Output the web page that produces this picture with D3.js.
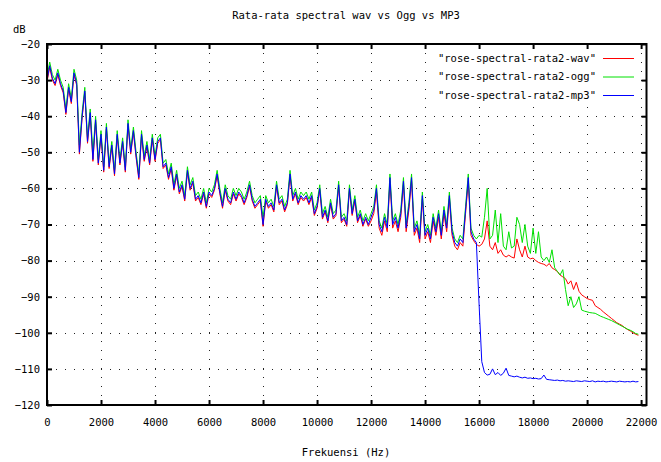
<!DOCTYPE html>
<html>
<head>
<meta charset="utf-8">
<script src="https://cdn.jsdelivr.net/npm/d3@7"></script>
<style>
  body { margin: 0; background: #fff; }
  text { font-family: "DejaVu Sans Mono", monospace; font-size: 10.5px; fill: #000; }
</style>
</head>
<body>
<div id="chart"></div>
<script>
// frequency step between samples (Hz), first sample at 0 Hz
var freqStep = 100;

var xTicks = [0, 2000, 4000, 6000, 8000, 10000, 12000, 14000, 16000, 18000, 20000, 22000];
var yTicks = [-20, -30, -40, -50, -60, -70, -80, -90, -100, -110, -120];
var seriesNames = ['"rose-spectral-rata2-wav"', '"rose-spectral-rata2-ogg"', '"rose-spectral-rata2-mp3"'];

var wav = [
  -30.5,-26.5,-30,-31.5,-28.5,-31.5,-33.5,-39.5,-32.5,-36.5,
  -28.5,-31.5,-50.5,-40.5,-33.5,-47.5,-39.5,-52.5,-41.5,-53.5,
  -45.5,-55.5,-43.5,-54.5,-48.5,-56.5,-45.5,-53.5,-47.5,-55.5,
  -42.5,-50.5,-44.5,-51.5,-57.5,-45.5,-52.5,-48.5,-53.5,-46.5,
  -52.5,-47.5,-46.5,-54.5,-53.5,-57.5,-54.5,-60.5,-56.5,-61.5,
  -59.5,-63.5,-55.5,-60.5,-58.5,-63.5,-62.5,-64.5,-61.5,-65.5,
  -61.5,-62.5,-60.5,-56.5,-61.5,-65.5,-60.5,-63.5,-64.5,-61.5,
  -63.5,-61.5,-62.5,-64.5,-62.5,-59.5,-63.5,-65.5,-64.5,-63.5,
  -70.5,-63.5,-65.5,-64.5,-66.5,-59.5,-64.5,-63.5,-66.5,-64.5,
  -56.5,-63.5,-61.5,-64.5,-62.5,-63.5,-62.5,-64.5,-62.5,-67.5,
  -65.5,-60.5,-68.5,-66.5,-69.5,-64.5,-68.5,-67.5,-59.5,-69.5,
  -68.5,-70.5,-60.5,-67.5,-63.5,-69.5,-67.5,-70.5,-68.5,-70.5,
  -69,-67,-61,-71,-73,-69,-72,-58,-71,-69,
  -72,-68,-59,-72,-66,-58,-73,-71,-75,-63,
  -74,-72,-75,-69,-73,-68,-74,-67,-72,-63,
  -73,-76,-77,-75,-76,-67,-58,-73,-74.5,-75.5,
  -76,-75.5,-74,-69,-76,-77,-75,-78,-77,-78.5,
  -79,-78.5,-79,-79.3,-74,-77,-79,-76,-79,-79.5,
  -79.3,-80,-80.5,-80.8,-81,-81.5,-80.8,-82,-82.5,-83,
  -84,-84.5,-85,-86.5,-85.6,-88,-86,-88.5,-89.5,-90,
  -90.5,-90.8,-91,-92.5,-93,-93.5,-94.2,-94.8,-95.4,-96,
  -96.6,-97.2,-97.6,-98,-98.6,-99.1,-99.5,-100,-100.4,-100.7
];

var ogg = [
  -29,-25,-28.5,-30,-27,-30,-32,-38,-31,-35,
  -27,-30,-48,-39,-32,-46,-38,-50,-40,-52,
  -44,-54,-42,-53,-47,-55,-44,-52,-46,-54,
  -41,-49,-43,-50,-56,-44,-51,-47,-52,-45,
  -51,-46,-45,-53,-52,-56,-53,-59,-55,-60,
  -58,-62,-54,-59,-57,-62,-61,-63,-60,-64,
  -60,-61,-59,-55,-60,-64,-59,-62,-63,-60,
  -62,-60,-61,-63,-61,-58,-62,-64,-63,-62,
  -68,-62,-64,-63,-65,-58,-63,-62,-65,-63,
  -55,-62,-60,-63,-61,-62,-61,-63,-61,-66,
  -64,-59,-67,-65,-68,-63,-67,-66,-58,-68,
  -67,-69,-59,-66,-62,-68,-66,-69,-67,-69,
  -67,-65,-59,-69,-71,-67,-70,-56,-69,-67,
  -70,-66,-57,-70,-64,-56,-71,-69,-73,-61,
  -72,-70,-73,-67,-71,-66,-72,-65,-70,-61,
  -71,-74,-75,-73,-74,-65,-56,-71,-73,-74,
  -73,-73.5,-68,-60,-74,-73,-66,-75,-67,-76,
  -77,-72,-76.5,-76,-68,-70,-75,-70,-76,-78,
  -71,-78,-72,-79,-80,-79,-80.5,-77,-82,-83,
  -84,-82.5,-88,-92.5,-90,-93,-92,-90,-93.7,-94,
  -94.2,-94.4,-94.5,-94.6,-95,-95.4,-95.7,-96,-96.3,-96.6,
  -97,-97.4,-97.8,-98.2,-98.6,-99,-99.3,-99.7,-100.2,-100.4
];

var mp3 = [
  -30,-26,-29.5,-31,-28,-31,-33,-39,-32,-36,
  -28,-31,-50,-40,-33,-47,-39,-52,-41,-53,
  -45,-55,-43,-54,-48,-56,-45,-53,-47,-55,
  -42,-50,-44,-51,-57,-45,-52,-48,-53,-46,
  -52,-47,-46,-54,-53,-57,-54,-60,-56,-61,
  -59,-63,-55,-60,-58,-63,-62,-64,-61,-65,
  -61,-62,-60,-56,-61,-65,-60,-63,-64,-61,
  -63,-61,-62,-64,-62,-59,-63,-65,-64,-63,
  -70,-63,-65,-64,-66,-59,-64,-63,-66,-64,
  -56,-63,-61,-64,-62,-63,-62,-64,-62,-67,
  -65,-60,-68,-66,-69,-64,-68,-67,-59,-69,
  -68,-70,-60,-67,-63,-69,-67,-70,-68,-70,
  -68,-66,-60,-70,-72,-68,-71,-57,-70,-68,
  -71,-67,-58,-71,-65,-57,-72,-70,-74,-62,
  -73,-71,-74,-68,-72,-67,-73,-66,-71,-62,
  -72,-75,-76,-74,-75,-66,-57,-72,-74,-75,
  -92,-108,-111,-111.7,-111.5,-110,-111.6,-111,-111.8,-111.2,
  -109.8,-111.8,-112,-112.2,-112,-112.3,-112.5,-112.3,-112.6,-112.5,
  -112.7,-112.6,-112.8,-112.7,-111.7,-112.9,-113,-113.1,-113.2,-113.1,
  -113.3,-113.2,-113.4,-113.3,-113.4,-113.5,-113.3,-113.4,-113.5,-113.3,
  -113.4,-113.5,-113.3,-113.6,-113.4,-113.5,-113.4,-113.6,-113.5,-113.4,
  -113.5,-113.6,-113.4,-113.5,-113.6,-113.5,-113.6,-113.4,-113.6,-113.5
];

var colors = ["#ff0000", "#00e000", "#0000ff"];

var width = 661, height = 462;
var plotL = 47, plotR = 646.5, plotT = 44, plotB = 405;

var svg = d3.select("#chart").append("svg").attr("width", width).attr("height", height);

var x = d3.scaleLinear().domain([0, 22200]).range([plotL, plotR]);
var y = d3.scaleLinear().domain([-120, -20]).range([plotB, plotT]);

//Grid (dotted)
var grid = svg.append("g").attr("stroke", "#222").attr("stroke-width", 1).attr("stroke-dasharray", "1,8");
grid.selectAll(".vg").data(xTicks.slice(1)).enter().append("line")
  .attr("x1", function(d){ return Math.round(x(d)) + 0.5; }).attr("x2", function(d){ return Math.round(x(d)) + 0.5; })
  .attr("y1", plotT).attr("y2", plotB);
grid.selectAll(".hg").data(yTicks.slice(1, -1)).enter().append("line")
  .attr("y1", function(d){ return Math.round(y(d)) + 0.5; }).attr("y2", function(d){ return Math.round(y(d)) + 0.5; })
  .attr("x1", plotL).attr("x2", plotR);

//Key box blanks the grid behind it
svg.append("rect").attr("x", 431).attr("y", plotT + 1).attr("width", 208).attr("height", 61).attr("fill", "#fff");

//Lines
var line = d3.line()
  .x(function(d, i){ return x(i * freqStep); })
  .y(function(d){ return y(d); });

[wav, ogg, mp3].forEach(function(s, i){
  svg.append("path").datum(s)
    .attr("fill", "none")
    .attr("stroke", colors[i])
    .attr("stroke-width", 1)
    .attr("d", line);
});

//Axes, ticks pointing inward
var axB = d3.axisBottom(x).tickValues(xTicks).tickSizeInner(-5).tickSizeOuter(0).tickPadding(14).tickFormat(d3.format("d"));
var axL = d3.axisLeft(y).tickValues(yTicks).tickSizeInner(-5).tickSizeOuter(0).tickPadding(7).tickFormat(function(d){ return String(d).replace("-", "\u2212"); });
var axT = d3.axisTop(x).tickValues(xTicks).tickSizeInner(-5).tickSizeOuter(0).tickFormat("");
var axR = d3.axisRight(y).tickValues(yTicks).tickSizeInner(-5).tickSizeOuter(0).tickFormat("");

function styleAxis(g){
  g.select(".domain").remove();
  g.selectAll(".tick line").attr("stroke", "#000").attr("stroke-width", 2);
  g.selectAll(".tick text").style("font-family", '"DejaVu Sans Mono", monospace').style("font-size", "10.5px").attr("fill", "#000");
}

svg.append("g").attr("transform", "translate(0," + plotB + ")").call(axB).call(styleAxis);
svg.append("g").attr("transform", "translate(" + plotL + ",0)").call(axL).call(styleAxis);
svg.append("g").attr("transform", "translate(0," + plotT + ")").call(axT).call(styleAxis);
svg.append("g").attr("transform", "translate(" + plotR + ",0)").call(axR).call(styleAxis);

//Border
svg.append("rect").attr("x", plotL).attr("y", plotT).attr("width", plotR - plotL).attr("height", plotB - plotT)
  .attr("fill", "none").attr("stroke", "#000").attr("stroke-width", 2);

//Key
var key = svg.append("g");
seriesNames.forEach(function(name, i){
  var ky = 58 + i * 18.5;
  key.append("text").attr("x", 596).attr("y", ky).attr("dy", "0.35em").attr("text-anchor", "end").text(name);
  key.append("line").attr("x1", 603).attr("x2", 634).attr("y1", ky + 0.5).attr("y2", ky + 0.5)
    .attr("stroke", colors[i]).attr("stroke-width", 1);
});

//Titles
svg.append("text").attr("x", 346).attr("y", 19).attr("text-anchor", "middle").text("Rata-rata spectral wav vs Ogg vs MP3");
svg.append("text").attr("x", 13).attr("y", 33).text("dB");
svg.append("text").attr("x", 346).attr("y", 456).attr("text-anchor", "middle").text("Frekuensi (Hz)");
</script>
</body>
</html>
